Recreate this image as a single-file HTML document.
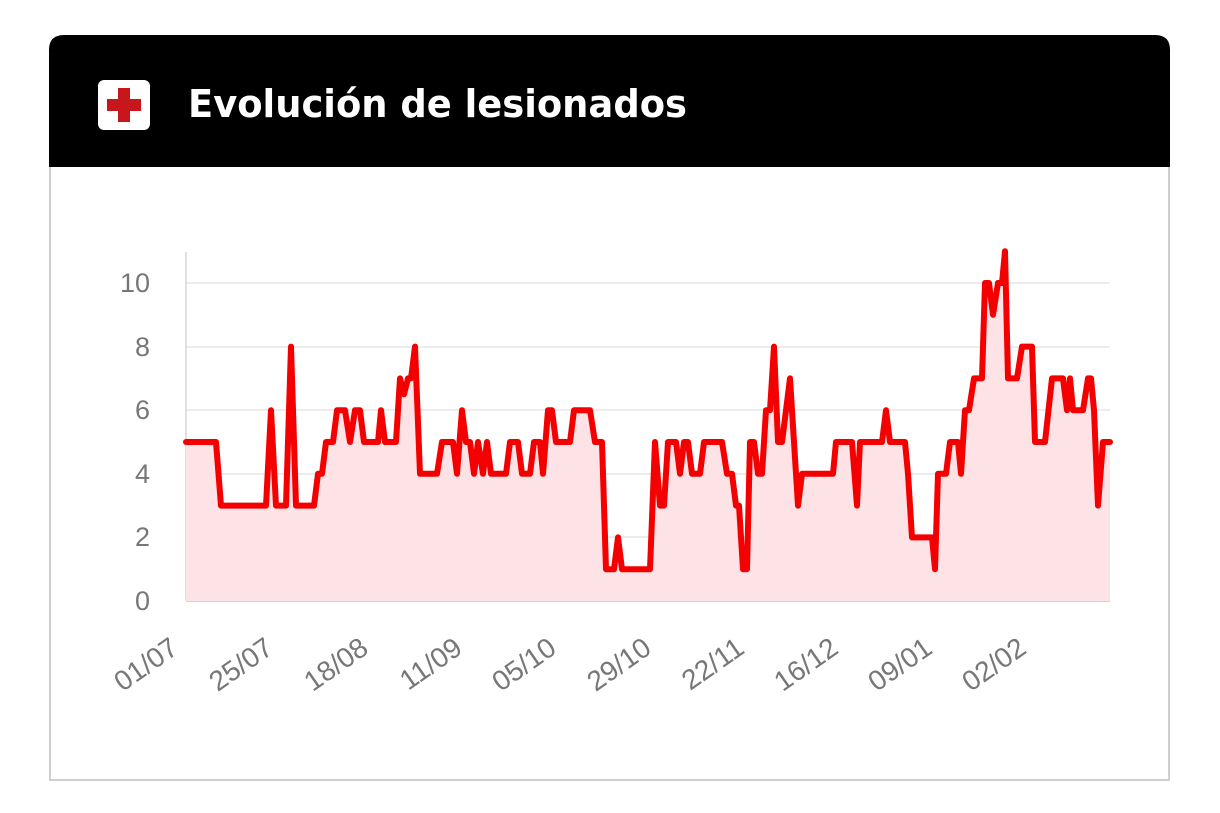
<!DOCTYPE html>
<html><head><meta charset="utf-8"><style>
body{margin:0;background:#fff;width:1220px;height:813px;overflow:hidden;font-family:"Liberation Sans",sans-serif}
</style></head><body>
<svg width="1220" height="813" xmlns="http://www.w3.org/2000/svg" style="position:absolute;left:0;top:0">
<rect x="50" y="150" width="1119" height="630" fill="#fff" stroke="#cfcfcf" stroke-width="2"/>
<path d="M49 167 V50 Q49 35 64 35 H1155 Q1170 35 1170 50 V167 Z" fill="#000"/>
<rect x="98" y="80" width="52" height="50" rx="6" fill="#fff"/>
<rect x="118" y="88" width="12" height="34" fill="#c8161d"/>
<rect x="107" y="99" width="34" height="12" fill="#c8161d"/>
<text x="188" y="117" fill="#fff" font-size="38" font-weight="bold" textLength="499" lengthAdjust="spacingAndGlyphs" font-family="'DejaVu Sans','Liberation Sans',sans-serif">Evolución de lesionados</text>
<g stroke="#ececec" stroke-width="2">
<line x1="186" y1="283" x2="1110" y2="283"/><line x1="186" y1="347" x2="1110" y2="347"/><line x1="186" y1="410" x2="1110" y2="410"/><line x1="186" y1="474" x2="1110" y2="474"/><line x1="186" y1="537" x2="1110" y2="537"/>
</g>
<line x1="186" y1="252" x2="186" y2="601" stroke="#e0e0e0" stroke-width="2"/>
<line x1="186" y1="601" x2="1110" y2="601" stroke="#dccfd2" stroke-width="2"/>
<g fill="#777" font-size="27" text-anchor="end">
<text x="150" y="292">10</text><text x="150" y="356">8</text><text x="150" y="419">6</text><text x="150" y="483">4</text><text x="150" y="546">2</text><text x="150" y="610">0</text>
</g>
<g fill="#777" font-size="28" text-anchor="end">
<text transform="translate(180,652) rotate(-35)">01/07</text>
<text transform="translate(275,652) rotate(-35)">25/07</text>
<text transform="translate(370,652) rotate(-35)">18/08</text>
<text transform="translate(464,652) rotate(-35)">11/09</text>
<text transform="translate(558,652) rotate(-35)">05/10</text>
<text transform="translate(653,652) rotate(-35)">29/10</text>
<text transform="translate(746,652) rotate(-35)">22/11</text>
<text transform="translate(840,652) rotate(-35)">16/12</text>
<text transform="translate(934,652) rotate(-35)">09/01</text>
<text transform="translate(1028,652) rotate(-35)">02/02</text>
</g>
<g id="d"></g>
</svg>
<script>
var p=[[186,5],[216,5],[221,3],[266,3],[271,6],[276,3],[286,3],[291,8],[296,3],[314,3],[318,4],[322,4],[326,5],[333,5],[337,6],[345,6],[350,5],[355,6],[360,6],[364,5],[378,5],[381,6],[385,5],[396,5],[400,7],[404,6.5],[408,7],[411,7],[415,8],[420,4],[437,4],[442,5],[453,5],[457,4],[462,6],[466,5],[470,5],[474,4],[478,5],[483,4],[487,5],[491,4],[506,4],[510,5],[518,5],[522,4],[530,4],[534,5],[540,5],[543,4],[548,6],[552,6],[556,5],[570,5],[574,6],[590,6],[595,5],[602,5],[606,1],[614,1],[618,2],[622,1],[650,1],[655,5],[660,3],[664,3],[668,5],[676,5],[680,4],[684,5],[688,5],[692,4],[700,4],[704,5],[722,5],[727,4],[732,4],[736,3],[739,3],[743,1],[747,1],[750,5],[754,5],[758,4],[762,4],[766,6],[770,6],[774,8],[778,5],[782,5],[790,7],[794,5],[798,3],[802,4],[833,4],[836,5],[852,5],[857,3],[860,5],[882,5],[886,6],[890,5],[905,5],[908,4],[912,2],[932,2],[935,1],[938,4],[946,4],[950,5],[958,5],[961,4],[965,6],[969,6],[974,7],[982,7],[985,10],[989,10],[993,9],[998,10],[1002,10],[1005,11],[1008,7],[1017,7],[1022,8],[1032,8],[1035,5],[1045,5],[1052,7],[1063,7],[1067,6],[1070,7],[1073,6],[1083,6],[1088,7],[1091,7],[1094,6],[1098,3],[1103,5],[1110,5]];
var s=p.map(function(q){return q[0]+","+(601-q[1]*31.8).toFixed(1)}).join(" ");
document.getElementById("d").innerHTML='<polygon points="186,601 '+s+' 1110,601" fill="#fde3e5"/><polyline points="'+s+'" fill="none" stroke="#f50000" stroke-width="6" stroke-linejoin="round" stroke-linecap="round"/>';
</script>
</body></html>
